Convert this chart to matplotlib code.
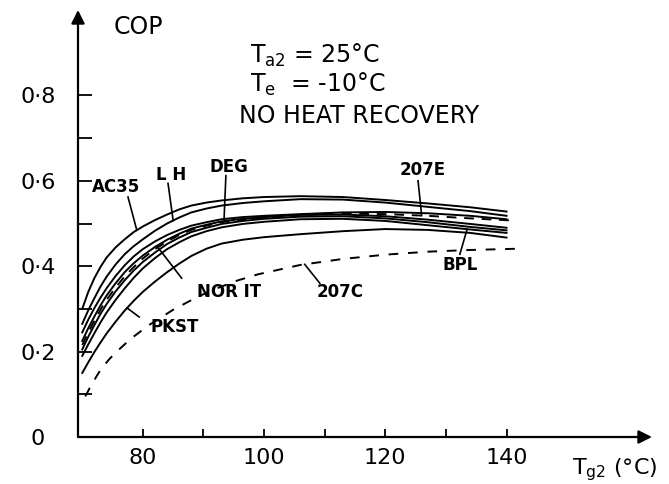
import numpy as np
import matplotlib
matplotlib.use("Agg")
import matplotlib.pyplot as plt

# generator temperature (deg C) and COP
t_gen = [70, 71, 72, 73, 74, 75.5, 77, 78.5, 80, 82, 84, 86, 88, 90.5, 93, 96.5, 100, 106, 113, 120, 127, 134, 140]

cop_ac35 = [0.300, 0.340, 0.372, 0.398, 0.420, 0.444, 0.463, 0.480, 0.493, 0.508, 0.521, 0.533, 0.542, 0.549, 0.554, 0.559, 0.562, 0.564, 0.562, 0.555, 0.547, 0.538, 0.528]
cop_lh   = [0.265, 0.297, 0.325, 0.352, 0.375, 0.404, 0.428, 0.447, 0.463, 0.483, 0.500, 0.514, 0.526, 0.535, 0.542, 0.548, 0.552, 0.557, 0.556, 0.549, 0.539, 0.529, 0.518]
cop_deg  = [0.245, 0.275, 0.302, 0.326, 0.348, 0.377, 0.402, 0.423, 0.440, 0.458, 0.473, 0.485, 0.495, 0.503, 0.510, 0.515, 0.518, 0.522, 0.526, 0.527, 0.524, 0.518, 0.510]
cop_nor  = [0.225, 0.255, 0.282, 0.308, 0.331, 0.360, 0.386, 0.407, 0.425, 0.445, 0.462, 0.476, 0.488, 0.497, 0.505, 0.511, 0.515, 0.520, 0.521, 0.517, 0.509, 0.499, 0.490]
cop_it   = [0.205, 0.235, 0.262, 0.288, 0.311, 0.341, 0.367, 0.390, 0.410, 0.432, 0.452, 0.467, 0.480, 0.490, 0.499, 0.506, 0.511, 0.516, 0.517, 0.512, 0.503, 0.492, 0.484]
cop_bpl  = [0.190, 0.217, 0.243, 0.268, 0.291, 0.321, 0.348, 0.373, 0.395, 0.419, 0.440, 0.456, 0.470, 0.482, 0.491, 0.499, 0.504, 0.510, 0.511, 0.506, 0.496, 0.486, 0.478]
cop_pkst = [0.150, 0.175, 0.199, 0.221, 0.242, 0.270, 0.296, 0.319, 0.340, 0.364, 0.386, 0.406, 0.424, 0.441, 0.453, 0.462, 0.468, 0.475, 0.482, 0.487, 0.485, 0.478, 0.467]

t_207e   = [70, 71, 72, 73, 74, 75.5, 77, 78.5, 80, 82, 84, 86, 88, 90.5, 93, 96.5, 100, 106, 113, 120, 127, 134, 141]
cop_207e = [0.215, 0.245, 0.272, 0.298, 0.321, 0.350, 0.376, 0.398, 0.418, 0.440, 0.458, 0.473, 0.485, 0.495, 0.503, 0.509, 0.514, 0.520, 0.523, 0.522, 0.518, 0.512, 0.507]

t_207c   = [70.5, 71.5, 73, 74.5, 76, 78, 81, 85, 89, 92, 95.5, 99, 106, 113, 120, 127, 134, 142]
cop_207c = [0.095, 0.122, 0.157, 0.183, 0.204, 0.230, 0.262, 0.298, 0.328, 0.347, 0.366, 0.381, 0.403, 0.417, 0.427, 0.434, 0.438, 0.441]

fig = plt.figure(figsize=(6.69, 4.84), dpi=100)
ax = fig.add_axes([78/669, 47/484, 574/669, 427/484])
ax.set_xlim(69.3, 164.0)
ax.set_ylim(0, 1.0)

lw = 1.4
solid = {"AC35": cop_ac35, "LH": cop_lh, "DEG": cop_deg, "NOR": cop_nor,
         "IT": cop_it, "BPL": cop_bpl, "PKST": cop_pkst}
for name, ys in solid.items():
    ax.plot(t_gen, ys, color="black", lw=lw, solid_joinstyle="round")
ax.plot(t_207e, cop_207e, color="black", lw=lw, ls=(0, (5, 4)))
ax.plot(t_207c, cop_207c, color="black", lw=lw, ls=(0, (5, 5)))

# axes drawn as arrows
for s in ax.spines.values():
    s.set_visible(False)
arrow = dict(arrowstyle="-|>", lw=1.6, color="black", mutation_scale=20, shrinkA=0, shrinkB=0)
ax.annotate("", xy=(1, 0), xytext=(0, 0), xycoords="axes fraction", arrowprops=arrow)
ax.annotate("", xy=(0, 1), xytext=(0, 0), xycoords="axes fraction", arrowprops=arrow)

ax.set_xticks([80, 100, 120, 140])
ax.set_xticklabels(["80", "100", "120", "140"])
ax.set_xticks([90, 110, 130], minor=True)
ax.set_yticks([0, 0.2, 0.4, 0.6, 0.8])
ax.set_yticklabels(["0", "0·2", "0·4", "0·6", "0·8"])
ax.set_yticks([0.1, 0.3, 0.5, 0.7], minor=True)
ax.tick_params(axis="x", which="both", direction="in", length=6, width=1.3, labelsize=16, pad=8)
ax.tick_params(axis="y", which="both", direction="in", length=10, width=1.3, labelsize=16, pad=29)
for lab in ax.get_yticklabels():
    lab.set_ha("center")

# curve labels, leader line from (sx, sy) to the curve at x_at
def pointer(text, tx, ty, sx, sy, xs, ys, x_at):
    y_at = np.interp(x_at, xs, ys)
    ax.text(tx, ty, text, ha="center", va="center", fontsize=12, fontweight="bold")
    ax.plot([sx, x_at], [sy, y_at], color="black", lw=1.2)

pointer("AC35", 75.6, 0.585, 77.55, 0.562, t_gen, cop_ac35, 79.0)
pointer("L H", 84.6, 0.614, 84.15, 0.594, t_gen, cop_lh, 85.0)
pointer("DEG", 94.2, 0.632, 93.7, 0.612, t_gen, cop_deg, 93.4)
pointer("207E", 126.2, 0.625, 125.4, 0.600, t_207e, cop_207e, 126.0)
pointer("BPL", 132.3, 0.403, 132.3, 0.428, t_gen, cop_bpl, 133.5)
pointer("NOR IT", 94.2, 0.340, 86.4, 0.372, t_gen, cop_nor, 82.3)
pointer("207C", 112.5, 0.340, 109.2, 0.360, t_207c, cop_207c, 106.7)
pointer("PKST", 85.2, 0.258, 79.4, 0.281, t_gen, cop_pkst, 77.4)

ax.text(79.2, 0.96, "COP", ha="center", va="center", fontsize=17)
ax.text(97.7, 0.876, r"T$_{\mathrm{a2}}$ = 25°C", ha="left", va="baseline", fontsize=17)
ax.text(97.7, 0.808, r"T$_{\mathrm{e}}$  = -10°C", ha="left", va="baseline", fontsize=17)
ax.text(115.7, 0.735, "NO HEAT RECOVERY", ha="center", va="baseline", fontsize=17)
fig.text(572/669, 14/484, r"T$_{\mathrm{g2}}$ (°C)", ha="left", va="center", fontsize=16)

fig.savefig("out.png", dpi=100)
